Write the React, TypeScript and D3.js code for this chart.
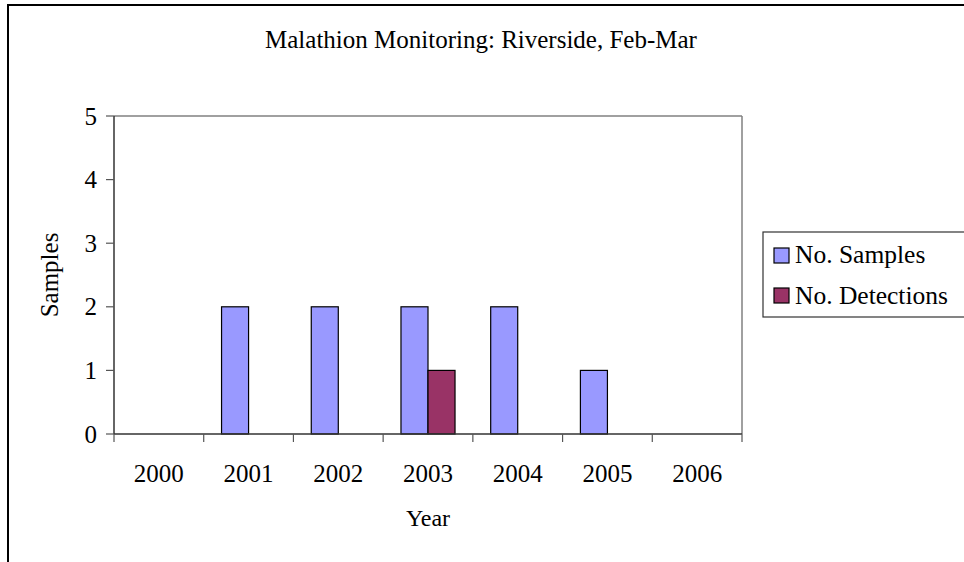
import React from "react";
import * as d3 from "d3";

const years = ["2000", "2001", "2002", "2003", "2004", "2005", "2006"];
const samples = [0, 2, 2, 2, 2, 1, 0];
const detections = [0, 0, 0, 1, 0, 0, 0];
const seriesNames = ["No. Samples", "No. Detections"];
const seriesColors = ["#9999FF", "#993366"];
const yTicks = [0, 1, 2, 3, 4, 5];
const title = "Malathion Monitoring: Riverside, Feb-Mar";
const xTitle = "Year";
const yTitle = "Samples";

const W = 964;
const H = 562;
const FONT = "'Liberation Serif', 'Times New Roman', serif";

export default function App() {
  const left = 114, right = 742, top = 116, bottom = 434;
  const x0 = d3.scaleBand<string>().domain(years).range([left, right]).paddingInner(0).paddingOuter(0);
  const x1 = d3.scaleBand<string>().domain(seriesNames).range([0, x0.bandwidth()]).paddingInner(0).paddingOuter(0.66);
  const y = d3.scaleLinear().domain([0, 5]).range([bottom, top]);
  const series = [samples, detections];

  return (
    <svg width={W} height={H} style={{ position: "absolute", left: 0, top: 0, background: "#fff" }} fontFamily={FONT}>
      <rect x={0} y={0} width={W} height={H} fill="#fff" />
      {/* outer chart border */}
      <rect x={8} y={5} width={W + 10} height={H + 10} fill="none" stroke="#000" strokeWidth={2} />
      {/* title */}
      <text x={481} y={48} fontSize={25} textAnchor="middle" fill="#000">{title}</text>

      {/* plot area border */}
      <line x1={left} x2={right} y1={top} y2={top} stroke="#808080" strokeWidth={1.5} />
      <line x1={right} x2={right} y1={top} y2={bottom} stroke="#808080" strokeWidth={1.5} />

      {/* bars */}
      {years.map((yr, i) => (
        <g key={yr} transform={`translate(${x0(yr)},0)`}>
          {seriesNames.map((s, j) => {
            const v = series[j][i];
            if (!v) return null;
            return (
              <rect
                key={s}
                x={x1(s)}
                y={y(v)}
                width={x1.bandwidth()}
                height={y(0) - y(v)}
                fill={seriesColors[j]}
                stroke="#000"
                strokeWidth={1.2}
              />
            );
          })}
        </g>
      ))}

      {/* y axis */}
      <line x1={left} x2={left} y1={top} y2={bottom} stroke="#333" strokeWidth={1.5} />
      {yTicks.map((t) => (
        <g key={t}>
          <line x1={left - 8} x2={left} y1={y(t)} y2={y(t)} stroke="#555" strokeWidth={1.2} />
          <text x={97} y={y(t)} dy="0.34em" fontSize={25} textAnchor="end" fill="#000">{t}</text>
        </g>
      ))}

      {/* x axis */}
      <line x1={left} x2={right} y1={bottom} y2={bottom} stroke="#333" strokeWidth={1.5} />
      {[...years.map((yr) => x0(yr) as number), right].map((xv, i) => (
        <line key={i} x1={xv} x2={xv} y1={bottom} y2={bottom + 8} stroke="#555" strokeWidth={1.2} />
      ))}
      {years.map((yr) => (
        <text key={yr} x={(x0(yr) as number) + x0.bandwidth() / 2} y={482} fontSize={25} textAnchor="middle" fill="#000">
          {yr}
        </text>
      ))}

      {/* axis titles */}
      <text x={(left + right) / 2} y={526} fontSize={24} textAnchor="middle" fill="#000">{xTitle}</text>
      <text transform={`translate(58,${(top + bottom) / 2}) rotate(-90)`} fontSize={25} textAnchor="middle" fill="#000">
        {yTitle}
      </text>

      {/* legend */}
      <rect x={763} y={232} width={220} height={85} fill="#fff" stroke="#333" strokeWidth={1.2} />
      {seriesNames.map((s, j) => (
        <g key={s}>
          <rect x={774} y={248 + j * 40} width={15} height={15} fill={seriesColors[j]} stroke="#000" strokeWidth={1.2} />
          <text x={795} y={263 + j * 40.5} fontSize={25.5} fill="#000">{s}</text>
        </g>
      ))}
    </svg>
  );
}
